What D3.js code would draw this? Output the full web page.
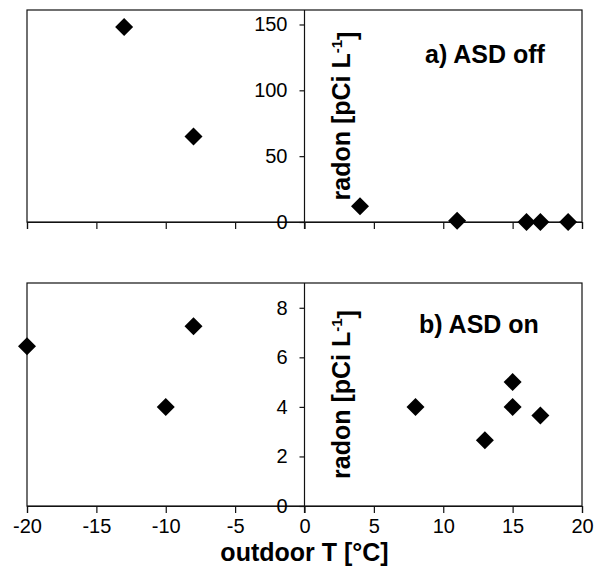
<!DOCTYPE html>
<html>
<head>
<meta charset="utf-8">
<script src="https://cdn.jsdelivr.net/npm/d3@7"></script>
<style>
    body { margin: 0; background: #fff; }
    text { font-family: "Liberation Sans", Arial, sans-serif; fill: #000; }
</style>
</head>
<body>
<div id="chart"></div>
<script>

// panel a) ASD off
var tempOff = [-13, -8, 4, 11, 16, 17, 19];
var radonOff = [148, 65, 12, 1, 0, 0, 0];

// panel b) ASD on
var tempOn = [-20, -10, -8, 8, 13, 15, 15, 17];
var radonOn = [6.45, 4.0, 7.25, 4.0, 2.65, 5.0, 4.0, 3.65];

var xTicks = [-20, -15, -10, -5, 0, 5, 10, 15, 20];
var yTicksOff = [0, 50, 100, 150];
var yTicksOn = [0, 2, 4, 6, 8];

var width = 595, height = 581;

var svg = d3.select("#chart").append("svg")
    .attr("width", width)
    .attr("height", height);

var x = d3.scaleLinear().domain([-20, 20]).range([27, 582]);

var panels = [
    {temp: tempOff, radon: radonOff, ticks: yTicksOff, max: 161, top: 10, bottom: 222,
        label: "a) ASD off", labelX: 425, labelY: 63, xLabels: false},
    {temp: tempOn, radon: radonOn, ticks: yTicksOn, max: 9, top: 283, bottom: 506,
        label: "b) ASD on", labelX: 419, labelY: 333, xLabels: true}
];

var diamond = d3.symbol().type(d3.symbolSquare).size(162);

panels.forEach(function (p) {

    var y = d3.scaleLinear().domain([0, p.max]).range([p.bottom, p.top]);

    var g = svg.append("g");

    // frame
    g.append("rect")
        .attr("x", x(-20))
        .attr("y", p.top)
        .attr("width", x(20) - x(-20))
        .attr("height", p.bottom - p.top)
        .attr("fill", "none")
        .attr("stroke", "#111")
        .attr("stroke-width", 1.2);

    // x axis on y = 0
    var xAxis = d3.axisBottom(x)
        .tickValues(xTicks)
        .tickSize(7)
        .tickPadding(6)
        .tickFormat(function (d) { return String(d); });

    var xg = g.append("g")
        .attr("transform", "translate(0," + y(0) + ")")
        .call(xAxis);
    xg.select(".domain").attr("stroke", "#111").attr("stroke-width", 1.2);
    xg.selectAll(".tick line").attr("stroke", "#111").attr("stroke-width", 1.2);
    xg.selectAll("text")
        .style("font-size", "20px")
        .attr("font-family", "Liberation Sans, Arial, sans-serif");
    if (!p.xLabels) xg.selectAll("text").remove();

    // y axis on x = 0
    var yAxis = d3.axisLeft(y)
        .tickValues(p.ticks)
        .tickSize(5)
        .tickPadding(12)
        .tickSizeOuter(0);

    var yg = g.append("g")
        .attr("transform", "translate(" + x(0) + ",0)")
        .call(yAxis);
    yg.select(".domain").remove();
    yg.append("line")
        .attr("x1", 0).attr("x2", 0)
        .attr("y1", p.top).attr("y2", p.bottom + 7)
        .attr("stroke", "#111")
        .attr("stroke-width", 1.2);
    yg.selectAll(".tick line").attr("stroke", "#111").attr("stroke-width", 1.2);
    yg.selectAll("text")
        .style("font-size", "20px")
        .attr("font-family", "Liberation Sans, Arial, sans-serif");

    // y title
    var yt = g.append("text")
        .attr("transform", "translate(350," + ((p.top + p.bottom) / 2) + ") rotate(-90)")
        .attr("text-anchor", "middle")
        .style("font-size", "25px")
        .style("font-weight", "bold");
    yt.append("tspan").text("radon [pCi L");
    yt.append("tspan").attr("dy", "-0.55em").style("font-size", "15px").text("-1");
    yt.append("tspan").attr("dy", "0.55em").text("]");

    // panel label
    g.append("text")
        .attr("x", p.labelX)
        .attr("y", p.labelY)
        .style("font-size", "25px")
        .style("font-weight", "bold")
        .text(p.label);

    // points
    g.selectAll("path.pt")
        .data(p.temp.map(function (t, i) { return {t: t, r: p.radon[i]}; }))
        .enter()
        .append("path")
        .attr("class", "pt")
        .attr("d", diamond)
        .attr("transform", function (d) {
            return "translate(" + x(d.t) + "," + y(d.r) + ") rotate(45)";
        })
        .attr("fill", "#000");
});

// x title
svg.append("text")
    .attr("x", x(0))
    .attr("y", 561)
    .attr("text-anchor", "middle")
    .style("font-size", "25px")
    .style("font-weight", "bold")
    .text("outdoor T [°C]");

</script>
</body>
</html>
